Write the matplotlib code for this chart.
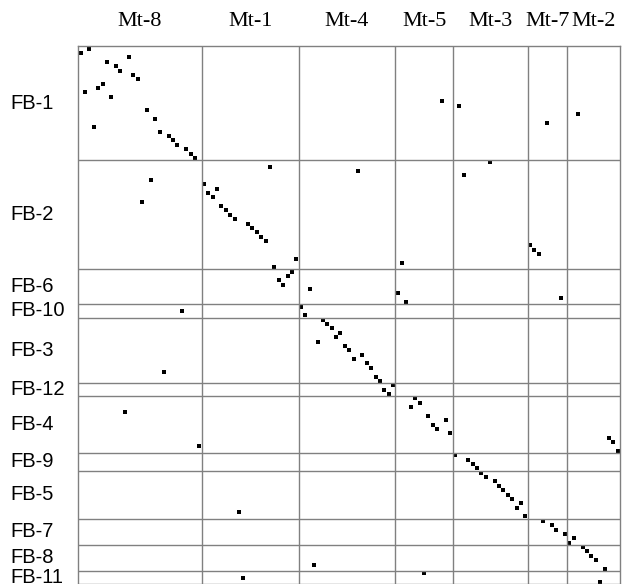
import numpy as np
import matplotlib.pyplot as plt
from matplotlib.transforms import blended_transform_factory

# column groups (top) and row groups (left), with their sizes in cells
col_groups = ['Mt-8', 'Mt-1', 'Mt-4', 'Mt-5', 'Mt-3', 'Mt-7', 'Mt-2']
col_sizes = [28, 22, 22, 13, 17, 9, 12]
row_groups = ['FB-1', 'FB-2', 'FB-6', 'FB-10', 'FB-3', 'FB-12', 'FB-4',
              'FB-9', 'FB-5', 'FB-7', 'FB-8', 'FB-11']
row_sizes = [26, 25, 8, 3, 15, 3, 13, 4, 11, 6, 6, 3]

# column index of the single marked cell in each row (row 0 .. 122)
col_of_row = [
    2, 0, 11, 6, 8, 9, 12, 13, 5, 4, 1, 7, 82, 86, 15, 113, 17, 106, 3, 18,
    20, 21, 22, 24, 25, 26, 93, 43, 63, 87, 16, 28, 31, 29, 30, 14, 32, 33, 34, 35,
    38, 39, 40, 41, 42, 102, 103, 104, 49, 73, 44, 48, 47, 45, 46, 52, 72, 109, 74, 50,
    23, 51, 55, 56, 57, 59, 58, 54, 60, 61, 64, 62, 65, 66, 19, 67, 68, 71, 69, 70,
    76, 77, 75, 10, 79, 83, 80, 81, 84, 120, 121, 27, 122, 85, 88, 89, 90, 91, 92, 94,
    95, 96, 97, 98, 100, 99, 36, 101, 105, 107, 108, 110, 112, 111, 114, 115, 116, 117, 53, 119,
    78, 37, 118,
]

n_cols = sum(col_sizes)
n_rows = sum(row_sizes)
rows = np.arange(len(col_of_row))
cols = np.array(col_of_row)

fig = plt.figure(figsize=(6.23, 5.84), dpi=100)
ax = fig.add_axes([0.1257, -0.0003, 0.8696, 0.9207])

ax.plot(cols + 0.5, rows + 0.5, 's', color='black', markersize=2.9, markeredgewidth=0)

gcol = '#808080'
col_edges = np.cumsum(col_sizes)
row_edges = np.cumsum(row_sizes)
for e in col_edges[:-1]:
    ax.axvline(e, color=gcol, lw=1.0)
for e in row_edges[:-1]:
    ax.axhline(e, color=gcol, lw=1.0)

ax.set_xlim(0, n_cols)
ax.set_ylim(n_rows, 0)
ax.set_xticks([])
ax.set_yticks([])
for s in ax.spines.values():
    s.set_color(gcol)
    s.set_linewidth(1.0)

# group labels
col_centers = col_edges - np.array(col_sizes) / 2
row_centers = row_edges - np.array(row_sizes) / 2
top_tr = blended_transform_factory(ax.transData, fig.transFigure)
for name, c in zip(col_groups, col_centers):
    ax.text(c, 1 - 22 / 584, name, transform=top_tr, ha='center', va='center',
            fontsize=16, family='Liberation Serif')
left_tr = blended_transform_factory(fig.transFigure, ax.transData)
for name, r in zip(row_groups, row_centers):
    ax.text(10.5 / 623, r, name, transform=left_tr, ha='left', va='center',
            fontsize=14.5, family='Liberation Sans')

fig.savefig('out.png', dpi=100)
